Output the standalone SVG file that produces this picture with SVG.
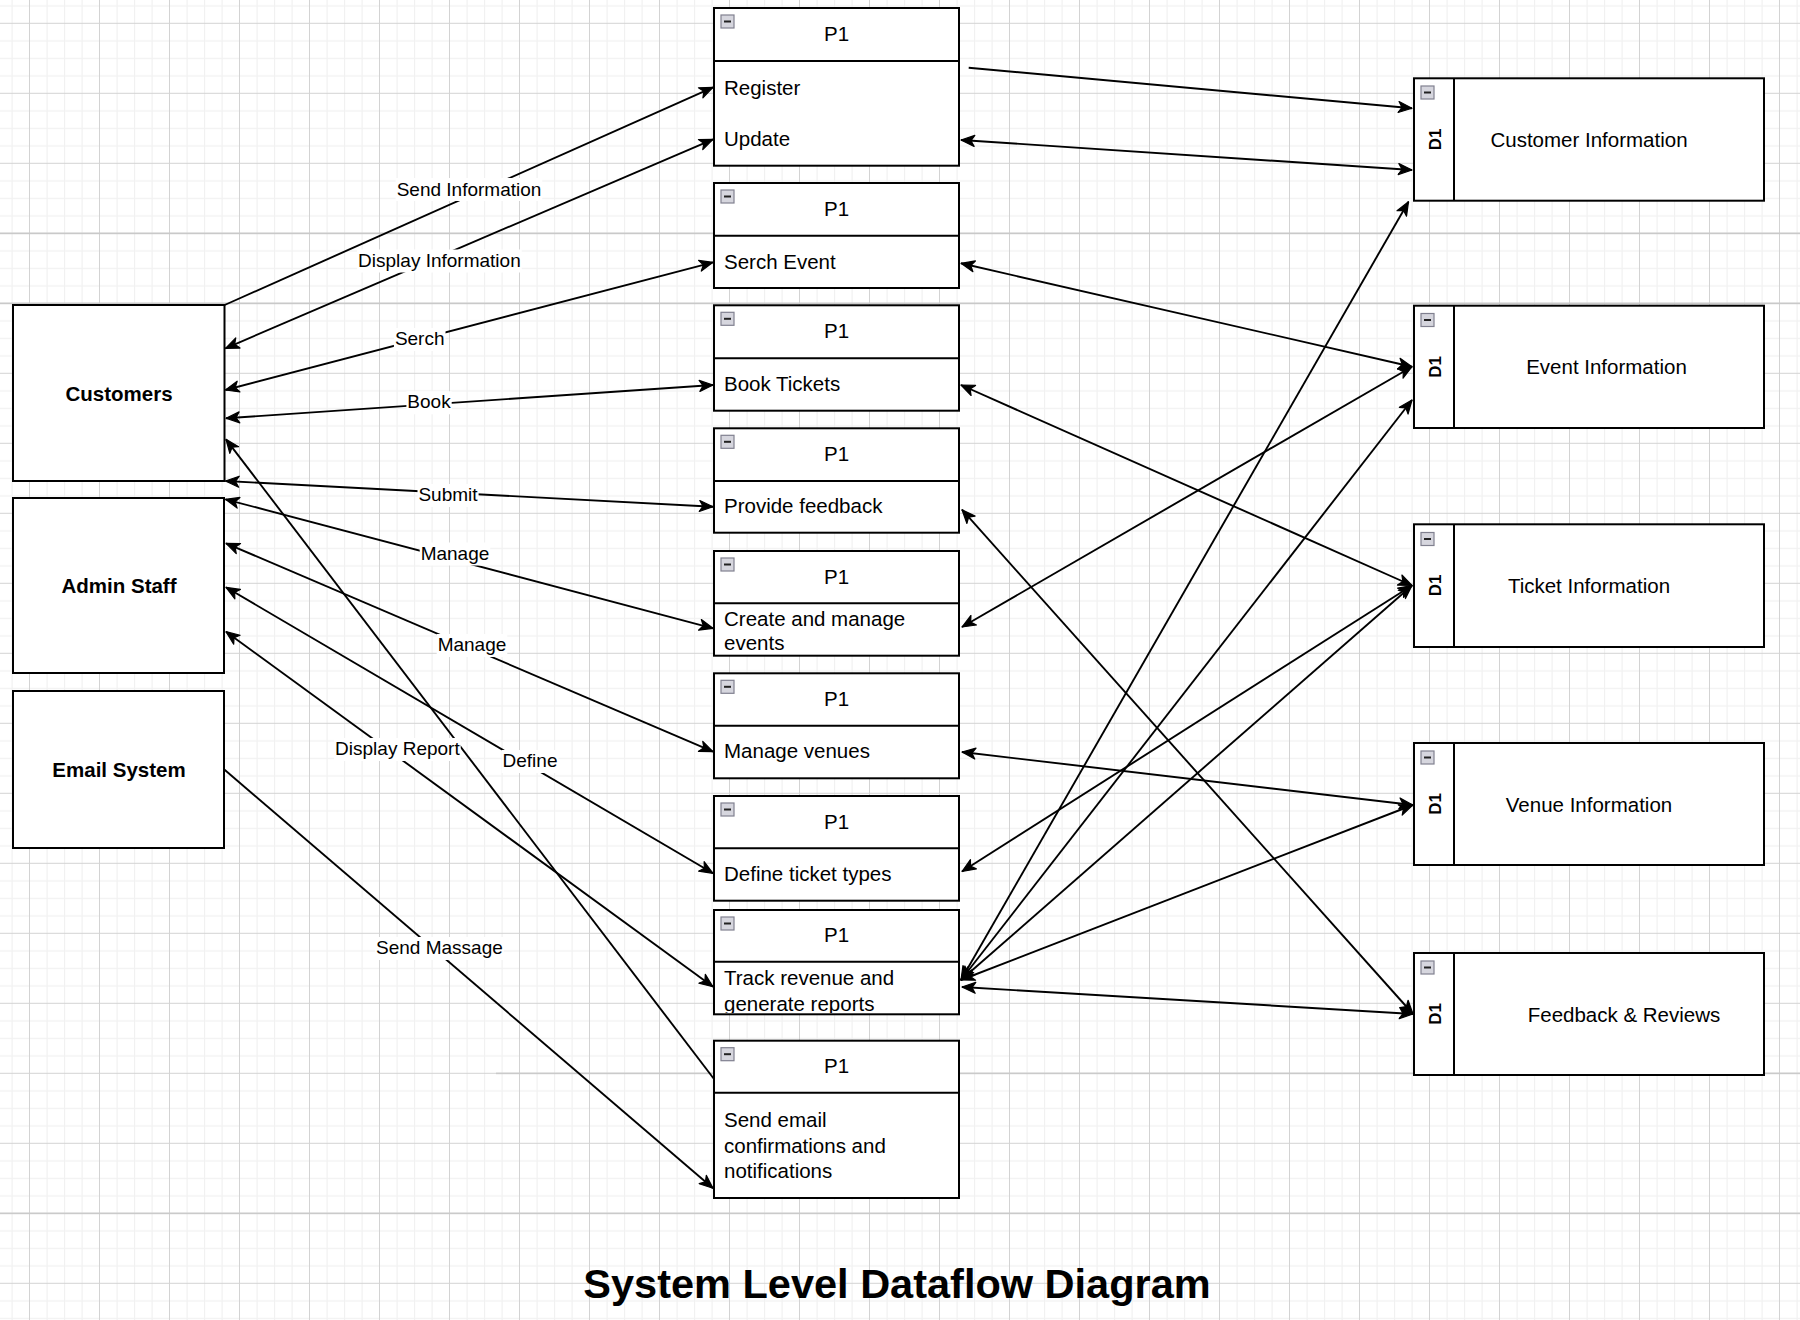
<svg xmlns="http://www.w3.org/2000/svg" width="1800" height="1320" viewBox="0 0 1800 1320">
<style>
.box{fill:#fff;stroke:#000;stroke-width:2}
.sep{stroke:#000;stroke-width:2}
.t{font-family:"Liberation Sans",Arial,sans-serif;font-size:20.5px;fill:#000}
.tc{font-family:"Liberation Sans",Arial,sans-serif;font-size:20.5px;fill:#000;text-anchor:middle}
.tb{font-family:"Liberation Sans",Arial,sans-serif;font-size:20.5px;font-weight:bold;fill:#000;text-anchor:middle}
.d1{font-family:"Liberation Sans",Arial,sans-serif;font-size:17px;font-weight:bold;fill:#000;text-anchor:middle}
.lb{font-family:"Liberation Sans",Arial,sans-serif;font-size:19px;fill:#000;text-anchor:middle}
.lbg{fill:#fff}
.e{fill:none;stroke:#000;stroke-width:1.9}
.ico{fill:#d6d6de;stroke:#80808f;stroke-width:1.2}
.icm{stroke:#222;stroke-width:2}
.title{font-family:"Liberation Sans",Arial,sans-serif;font-size:41.5px;font-weight:bold;fill:#000;text-anchor:middle}
</style>
<defs>
<pattern id="grid" x="29" y="22.8" width="70" height="70" patternUnits="userSpaceOnUse">
<rect x="17.5" y="0" width="1.2" height="70" fill="#f1f1f1"/>
<rect x="35" y="0" width="1.2" height="70" fill="#f1f1f1"/>
<rect x="52.5" y="0" width="1.2" height="70" fill="#f1f1f1"/>
<rect x="0" y="17.5" width="70" height="1.2" fill="#f1f1f1"/>
<rect x="0" y="35" width="70" height="1.2" fill="#f1f1f1"/>
<rect x="0" y="52.5" width="70" height="1.2" fill="#f1f1f1"/>
<rect x="0" y="0" width="1" height="70" fill="#d3d3d3"/>
<rect x="0" y="0" width="70" height="1" fill="#d3d3d3"/>
</pattern>
<marker id="arr" viewBox="-1 -1 16 13" refX="13.5" refY="5.5" markerWidth="16" markerHeight="13" orient="auto-start-reverse" markerUnits="userSpaceOnUse">
<path d="M0,0 L13.5,5.5 L0,11 L3.5,5.5 Z" fill="#000" stroke="#000" stroke-width="1.2" stroke-linejoin="round"/>
</marker>
<clipPath id="clip8"><rect x="714" y="962" width="245" height="51"/></clipPath>
</defs>

<g id="background">
<rect x="0" y="0" width="1800" height="1320" fill="#fff"/>
<rect x="0" y="0" width="1800" height="1320" fill="url(#grid)"/>
<rect x="0" y="232.6" width="1800" height="1.6" fill="#c9c9c9"/>
<rect x="0" y="302.6" width="1800" height="1.6" fill="#c9c9c9"/>
<rect x="496" y="1072.6" width="1304" height="1.6" fill="#cacaca"/>
<rect x="0" y="1212.6" width="1800" height="1.6" fill="#cacaca"/>
</g>

<g id="connectors">
<path class="e" d="M224.7,305 L713,87.3" marker-end="url(#arr)"/>
<path class="e" d="M713,139.3 L225.5,348.3" marker-start="url(#arr)" marker-end="url(#arr)"/>
<path class="e" d="M713,262.3 L225.5,390" marker-start="url(#arr)" marker-end="url(#arr)"/>
<path class="e" d="M713,385 L226,418.3" marker-start="url(#arr)" marker-end="url(#arr)"/>
<path class="e" d="M713,506.7 L225.5,481" marker-start="url(#arr)" marker-end="url(#arr)"/>
<path class="e" d="M713,628.3 L225.5,499.3" marker-start="url(#arr)" marker-end="url(#arr)"/>
<path class="e" d="M713,751.7 L226,543.3" marker-start="url(#arr)" marker-end="url(#arr)"/>
<path class="e" d="M713,873.3 L226,587.3" marker-start="url(#arr)" marker-end="url(#arr)"/>
<path class="e" d="M713,986.7 L226,631.7" marker-start="url(#arr)" marker-end="url(#arr)"/>
<path class="e" d="M224,769.3 L713,1188.3" marker-end="url(#arr)"/>
<path class="e" d="M714,1079 L226,439.3" marker-end="url(#arr)"/>

<path class="e" d="M968.7,67.7 L1412,108.3" marker-end="url(#arr)"/>
<path class="e" d="M961,140 L1412,170" marker-start="url(#arr)" marker-end="url(#arr)"/>
<path class="e" d="M961,263.3 L1412,366.7" marker-start="url(#arr)" marker-end="url(#arr)"/>
<path class="e" d="M961,385 L1412,585.5" marker-start="url(#arr)" marker-end="url(#arr)"/>
<path class="e" d="M962,509.7 L1413,1014" marker-start="url(#arr)" marker-end="url(#arr)"/>
<path class="e" d="M962,627 L1412,366.7" marker-start="url(#arr)" marker-end="url(#arr)"/>
<path class="e" d="M962,752 L1412.8,805" marker-start="url(#arr)" marker-end="url(#arr)"/>
<path class="e" d="M962,871.5 L1412,585.5" marker-start="url(#arr)" marker-end="url(#arr)"/>
<path class="e" d="M961,980 L1408.5,201.7" marker-start="url(#arr)" marker-end="url(#arr)"/>
<path class="e" d="M961,980 L1412,400" marker-start="url(#arr)" marker-end="url(#arr)"/>
<path class="e" d="M961,980 L1412,585.5" marker-start="url(#arr)" marker-end="url(#arr)"/>
<path class="e" d="M961,980 L1412.8,805" marker-start="url(#arr)" marker-end="url(#arr)"/>
<path class="e" d="M962,987 L1413,1014" marker-start="url(#arr)" marker-end="url(#arr)"/>

<g id="edge-labels">
<rect class="lbg" x="395.6" y="178" width="146.7" height="23"/><text class="lb" x="469" y="195.5">Send Information</text>
<rect class="lbg" x="357.1" y="249.5" width="164.6" height="23"/><text class="lb" x="439.4" y="266.7">Display Information</text>
<rect class="lbg" x="393.9" y="328" width="51.6" height="23"/><text class="lb" x="419.7" y="345">Serch</text>
<rect class="lbg" x="406.4" y="391.3" width="45.3" height="23"/><text class="lb" x="429" y="408.3">Book</text>
<rect class="lbg" x="417.5" y="484" width="61.1" height="23"/><text class="lb" x="448" y="501">Submit</text>
<rect class="lbg" x="419.7" y="542.5" width="70.6" height="23"/><text class="lb" x="455" y="559.5">Manage</text>
<rect class="lbg" x="436.7" y="634" width="70.6" height="23"/><text class="lb" x="472" y="651">Manage</text>
<rect class="lbg" x="501.6" y="750" width="56.9" height="23"/><text class="lb" x="530" y="767">Define</text>
<rect class="lbg" x="334.1" y="738" width="126.6" height="23"/><text class="lb" x="397.4" y="755">Display Report</text>
<rect class="lbg" x="375.1" y="937" width="128.7" height="23"/><text class="lb" x="439.4" y="954">Send Massage</text>
</g>
</g>

<g id="customers"><rect class="box" x="13" y="305" width="211.5" height="176"/><text class="tb" x="119" y="400.5">Customers</text></g>
<g id="admin-staff"><rect class="box" x="13" y="498" width="211" height="175"/><text class="tb" x="119" y="593">Admin Staff</text></g>
<g id="email-system"><rect class="box" x="13" y="691" width="211" height="157"/><text class="tb" x="119" y="776.5">Email System</text></g>

<g id="p-register">
<rect class="box" x="714" y="8" width="245" height="157.7"/><line class="sep" x1="714" y1="61" x2="959" y2="61"/>
<rect class="ico" x="721" y="15" width="13" height="13"/><line class="icm" x1="724" y1="21.5" x2="731" y2="21.5"/>
<text class="tc" x="836.5" y="41">P1</text>
<text class="t" x="724" y="94.5">Register</text>
<text class="t" x="724" y="145.7">Update</text>
</g>
<g id="p-serch">
<rect class="box" x="714" y="183" width="245" height="105"/><line class="sep" x1="714" y1="235.7" x2="959" y2="235.7"/>
<rect class="ico" x="721" y="190" width="13" height="13"/><line class="icm" x1="724" y1="196.5" x2="731" y2="196.5"/>
<text class="tc" x="836.5" y="215.8">P1</text>
<text class="t" x="724" y="268.7">Serch Event</text>
</g>
<g id="p-book">
<rect class="box" x="714" y="305.3" width="245" height="105.4"/><line class="sep" x1="714" y1="358.3" x2="959" y2="358.3"/>
<rect class="ico" x="721" y="312.3" width="13" height="13"/><line class="icm" x1="724" y1="318.8" x2="731" y2="318.8"/>
<text class="tc" x="836.5" y="338.3">P1</text>
<text class="t" x="724" y="390.7">Book Tickets</text>
</g>
<g id="p-feedback">
<rect class="box" x="714" y="428.3" width="245" height="104.4"/><line class="sep" x1="714" y1="481" x2="959" y2="481"/>
<rect class="ico" x="721" y="435.3" width="13" height="13"/><line class="icm" x1="724" y1="441.8" x2="731" y2="441.8"/>
<text class="tc" x="836.5" y="461.2">P1</text>
<text class="t" x="724" y="513.3">Provide feedback</text>
</g>
<g id="p-events">
<rect class="box" x="714" y="551" width="245" height="104.7"/><line class="sep" x1="714" y1="603.3" x2="959" y2="603.3"/>
<rect class="ico" x="721" y="558" width="13" height="13"/><line class="icm" x1="724" y1="564.5" x2="731" y2="564.5"/>
<text class="tc" x="836.5" y="583.7">P1</text>
<text class="t" x="724" y="626">Create and manage</text>
<text class="t" x="724" y="650">events</text>
</g>
<g id="p-venues">
<rect class="box" x="714" y="673.3" width="245" height="105"/><line class="sep" x1="714" y1="725.7" x2="959" y2="725.7"/>
<rect class="ico" x="721" y="680.3" width="13" height="13"/><line class="icm" x1="724" y1="686.8" x2="731" y2="686.8"/>
<text class="tc" x="836.5" y="706">P1</text>
<text class="t" x="724" y="758.3">Manage venues</text>
</g>
<g id="p-tickettypes">
<rect class="box" x="714" y="796" width="245" height="104.7"/><line class="sep" x1="714" y1="848.3" x2="959" y2="848.3"/>
<rect class="ico" x="721" y="803" width="13" height="13"/><line class="icm" x1="724" y1="809.5" x2="731" y2="809.5"/>
<text class="tc" x="836.5" y="828.7">P1</text>
<text class="t" x="724" y="881">Define ticket types</text>
</g>
<g id="p-revenue">
<rect class="box" x="714" y="910" width="245" height="104.3"/><line class="sep" x1="714" y1="961.7" x2="959" y2="961.7"/>
<rect class="ico" x="721" y="917" width="13" height="13"/><line class="icm" x1="724" y1="923.5" x2="731" y2="923.5"/>
<text class="tc" x="836.5" y="942.4">P1</text>
<g clip-path="url(#clip8)">
<text class="t" x="724" y="985">Track revenue and</text>
<text class="t" x="724" y="1010.5">generate reports</text>
</g>
</g>
<g id="p-email">
<rect class="box" x="714" y="1040.7" width="245" height="157.3"/><line class="sep" x1="714" y1="1092.7" x2="959" y2="1092.7"/>
<rect class="ico" x="721" y="1047.7" width="13" height="13"/><line class="icm" x1="724" y1="1054.2" x2="731" y2="1054.2"/>
<text class="tc" x="836.5" y="1073.2">P1</text>
<text class="t" x="724" y="1127">Send email</text>
<text class="t" x="724" y="1152.5">confirmations and</text>
<text class="t" x="724" y="1177.5">notifications</text>
</g>

<g id="d-customer">
<rect class="box" x="1414" y="78.3" width="350" height="122.4"/><line class="sep" x1="1454" y1="78.3" x2="1454" y2="200.7"/>
<rect class="ico" x="1421" y="86" width="13" height="13"/><line class="icm" x1="1424" y1="92.5" x2="1431" y2="92.5"/>
<text class="d1" transform="translate(1434.5,139.5) rotate(-90)" y="6">D1</text>
<text class="tc" x="1589" y="146.5">Customer Information</text>
</g>
<g id="d-event">
<rect class="box" x="1414" y="305.7" width="350" height="122.3"/><line class="sep" x1="1454" y1="305.7" x2="1454" y2="428"/>
<rect class="ico" x="1421" y="313.5" width="13" height="13"/><line class="icm" x1="1424" y1="320" x2="1431" y2="320"/>
<text class="d1" transform="translate(1434.5,366.8) rotate(-90)" y="6">D1</text>
<text class="tc" x="1606.5" y="374">Event Information</text>
</g>
<g id="d-ticket">
<rect class="box" x="1414" y="524.3" width="350" height="122.7"/><line class="sep" x1="1454" y1="524.3" x2="1454" y2="647"/>
<rect class="ico" x="1421" y="532.5" width="13" height="13"/><line class="icm" x1="1424" y1="539" x2="1431" y2="539"/>
<text class="d1" transform="translate(1434.5,585.5) rotate(-90)" y="6">D1</text>
<text class="tc" x="1589" y="593">Ticket Information</text>
</g>
<g id="d-venue">
<rect class="box" x="1414" y="743" width="350" height="122"/><line class="sep" x1="1454" y1="743" x2="1454" y2="865"/>
<rect class="ico" x="1421" y="751" width="13" height="13"/><line class="icm" x1="1424" y1="757.5" x2="1431" y2="757.5"/>
<text class="d1" transform="translate(1434.5,804) rotate(-90)" y="6">D1</text>
<text class="tc" x="1589" y="811.5">Venue Information</text>
</g>
<g id="d-feedback">
<rect class="box" x="1414" y="953" width="350" height="122"/><line class="sep" x1="1454" y1="953" x2="1454" y2="1075"/>
<rect class="ico" x="1421" y="961" width="13" height="13"/><line class="icm" x1="1424" y1="967.5" x2="1431" y2="967.5"/>
<text class="d1" transform="translate(1434.5,1014) rotate(-90)" y="6">D1</text>
<text class="tc" x="1624" y="1021.5">Feedback &amp; Reviews</text>
</g>

<g id="title"><text class="title" x="897" y="1298">System Level Dataflow Diagram</text></g>
</svg>
